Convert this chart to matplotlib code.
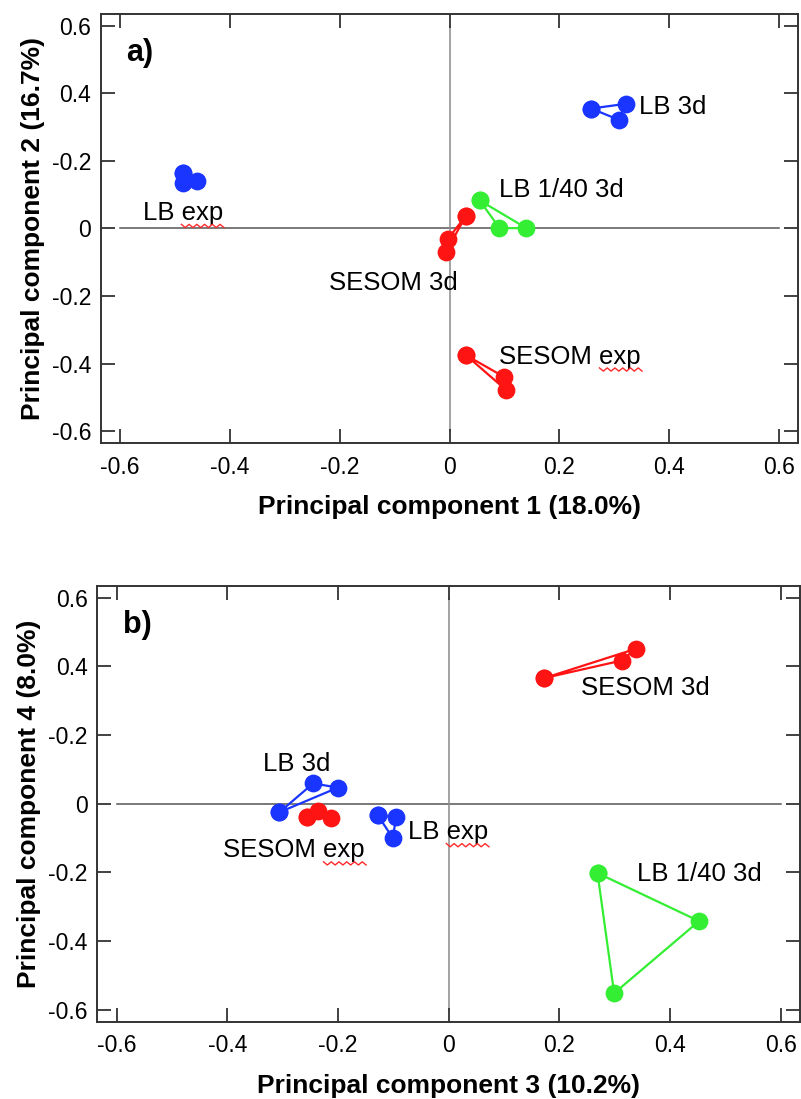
import matplotlib
matplotlib.use("Agg")
import matplotlib.pyplot as plt
import numpy as np
from matplotlib.lines import Line2D
from matplotlib.transforms import IdentityTransform

plt.rcParams['font.family'] = ['Liberation Sans', 'DejaVu Sans']

# kolory grup
blue = '#1a35ff'
green = '#33ee33'
red = '#ff1414'

# panel a) PC1 vs PC2
a_lb_exp_x = [-0.486, -0.486, -0.460]
a_lb_exp_y = [0.164, 0.136, 0.141]
a_lb_3d_x = [0.258, 0.321, 0.308]
a_lb_3d_y = [0.355, 0.369, 0.322]
a_lb140_x = [0.055, 0.091, 0.140]
a_lb140_y = [0.083, 0.001, 0.001]
a_ses_3d_x = [0.030, -0.003, -0.007]
a_ses_3d_y = [0.038, -0.031, -0.071]
a_ses_exp_x = [0.030, 0.099, 0.103]
a_ses_exp_y = [-0.375, -0.439, -0.478]

# panel b) PC3 vs PC4
b_lb_3d_x = [-0.306, -0.245, -0.200]
b_lb_3d_y = [-0.025, 0.059, 0.047]
b_ses_exp_x = [-0.256, -0.236, -0.212]
b_ses_exp_y = [-0.039, -0.020, -0.041]
b_lb_exp_x = [-0.128, -0.095, -0.101]
b_lb_exp_y = [-0.034, -0.039, -0.100]
b_ses_3d_x = [0.173, 0.313, 0.338]
b_ses_3d_y = [0.366, 0.417, 0.451]
b_lb140_x = [0.269, 0.4525, 0.299]
b_lb140_y = [-0.202, -0.342, -0.552]

# etykiety (tekst, x, y, wyrownanie)
a_labels = [('LB exp', -0.559, 0.046, 'left'),
            ('LB 3d', 0.346, 0.36, 'left'),
            ('LB 1/40 3d', 0.091, 0.115, 'left'),
            ('SESOM 3d', -0.102, -0.161, 'center'),
            ('SESOM exp', 0.091, -0.379, 'left')]
b_labels = [('LB 3d', -0.275, 0.117, 'center'),
            ('SESOM exp', -0.279, -0.136, 'center'),
            ('LB exp', -0.074, -0.083, 'left'),
            ('SESOM 3d', 0.239, 0.337, 'left'),
            ('LB 1/40 3d', 0.341, -0.205, 'left')]

ticks = [-0.6, -0.4, -0.2, 0, 0.2, 0.4, 0.6]
xtick_labels = ['-0.6', '-0.4', '-0.2', '0', '0.2', '0.4', '0.6']
ytick_labels = ['-0.6', '-0.4', '-0.2', '0', '-0.2', '0.4', '0.6']


def triangle(ax, xs, ys, color):
    # zamkniety trojkat z punktami
    ax.plot(list(xs) + [xs[0]], list(ys) + [ys[0]], '-o', color=color,
            lw=1.6, ms=11.8, zorder=3)


def setup_axes(ax, xlabel, ylabel, letter):
    lim = 0.635
    ax.set_xlim(-lim, lim)
    ax.set_ylim(-lim, lim)
    ax.plot([-0.6, 0.6], [0, 0], color='#555555', lw=1.1, zorder=1)
    ax.plot([0, 0], [-0.6, 0.6], color='#8a8a8a', lw=1.1, zorder=1)
    ax.set_xticks(ticks)
    ax.set_xticklabels(xtick_labels)
    ax.set_yticks(ticks)
    ax.set_yticklabels(ytick_labels)
    ax.tick_params(direction='in', length=10, width=1.3, labelsize=16.5,
                   top=True, right=True, color='#333333')
    ax.tick_params(axis='x', pad=9)
    ax.tick_params(axis='y', pad=7)
    for s in ax.spines.values():
        s.set_color('#333333')
        s.set_linewidth(1.4)
    ax.set_xlabel(xlabel, fontsize=19, fontweight='bold', labelpad=12)
    ax.set_ylabel(ylabel, fontsize=19, fontweight='bold', labelpad=5)
    ax.text(-0.589, 0.52, letter, fontsize=22, fontweight='bold', va='center', ha='left')


fig = plt.figure(figsize=(8.01, 10.99), dpi=100)
ax1 = fig.add_axes([0.1261, 0.5969, 0.8702, 0.3904])
ax2 = fig.add_axes([0.1215, 0.0703, 0.8773, 0.3968])

setup_axes(ax1, 'Principal component 1 (18.0%)', 'Principal component 2 (16.7%)', 'a)')
setup_axes(ax2, 'Principal component 3 (10.2%)', 'Principal component 4 (8.0%)', 'b)')

triangle(ax1, a_lb_exp_x, a_lb_exp_y, blue)
triangle(ax1, a_lb_3d_x, a_lb_3d_y, blue)
triangle(ax1, a_lb140_x, a_lb140_y, green)
triangle(ax1, a_ses_3d_x, a_ses_3d_y, red)
triangle(ax1, a_ses_exp_x, a_ses_exp_y, red)

triangle(ax2, b_lb_3d_x, b_lb_3d_y, blue)
triangle(ax2, b_ses_exp_x, b_ses_exp_y, red)
triangle(ax2, b_lb_exp_x, b_lb_exp_y, blue)
triangle(ax2, b_ses_3d_x, b_ses_3d_y, red)
triangle(ax2, b_lb140_x, b_lb140_y, green)

texts = []
for ax, labels in ((ax1, a_labels), (ax2, b_labels)):
    for txt, x, y, ha in labels:
        t = ax.text(x, y, txt, fontsize=18.5, ha=ha, va='center', zorder=4)
        texts.append(t)

# czerwone falki pod "exp" (jak w oryginale - sprawdzanie pisowni)
fig.canvas.draw()
renderer = fig.canvas.get_renderer()
for t in texts:
    s = t.get_text()
    if not s.endswith('exp'):
        continue
    bb = t.get_window_extent(renderer)
    pre_w, _, _ = renderer.get_text_width_height_descent(s[:-3], t.get_fontproperties(), ismath=False)
    x0 = bb.x0 + pre_w
    x1 = bb.x1 + 1
    n = int((x1 - x0) / 3.6)
    xs = np.linspace(x0, x1, n + 1)
    ys = bb.y0 - 1.0 + np.where(np.arange(n + 1) % 2 == 0, 1.6, -1.6)
    fig.add_artist(Line2D(xs, ys, color='#ff2a2a', lw=1.0, transform=IdentityTransform()))

fig.savefig('out.png', dpi=100)
